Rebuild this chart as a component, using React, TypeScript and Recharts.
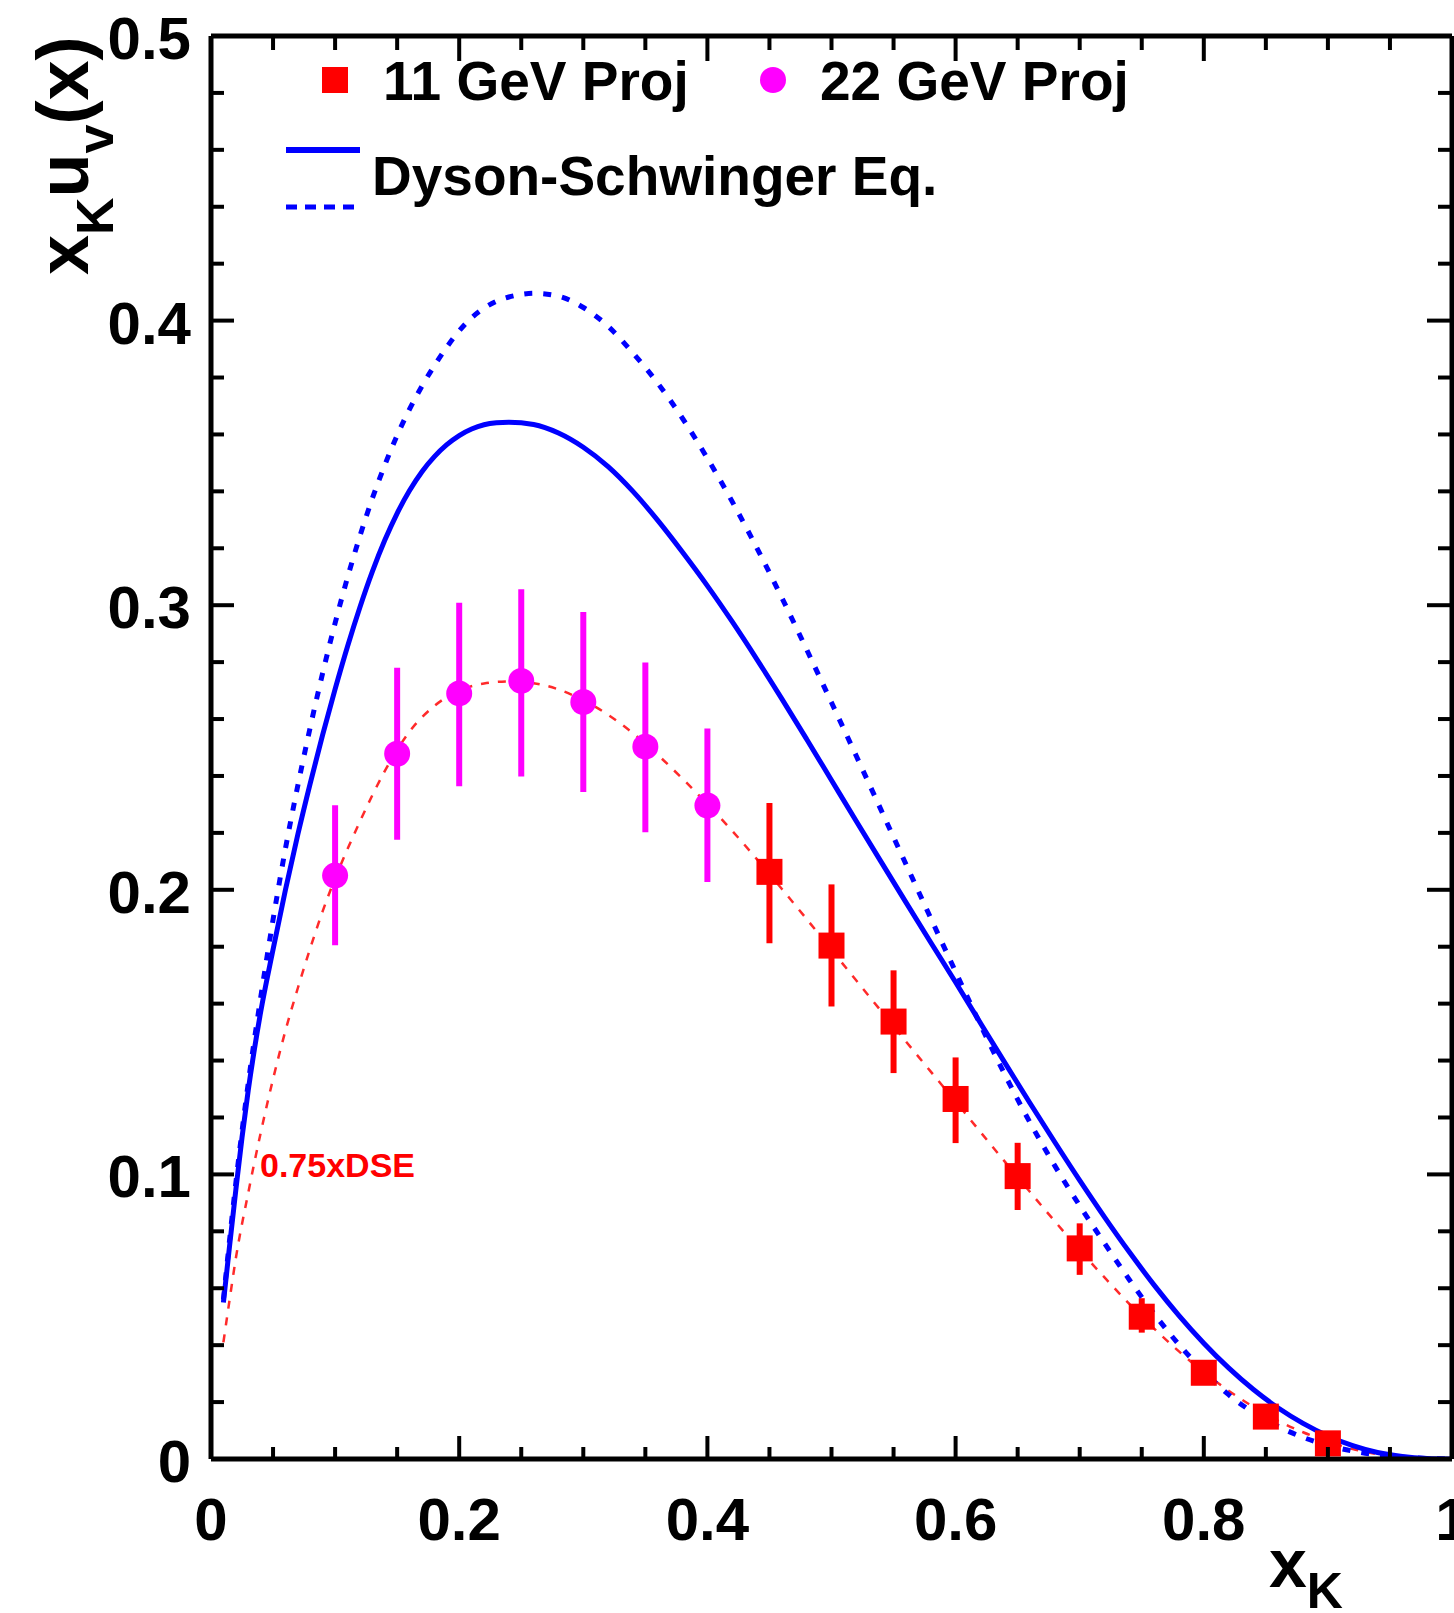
import React from 'react';
import { ComposedChart, Line, Scatter, XAxis, YAxis, ErrorBar, Customized } from 'recharts';

const W = 1454;
const H = 1613;
const FONT = '"Liberation Sans", Arial, Helvetica, sans-serif';

// ---- axis ticks ----
const xTicks = [0, 0.05, 0.1, 0.15, 0.2, 0.25, 0.3, 0.35, 0.4, 0.45, 0.5, 0.55, 0.6, 0.65, 0.7, 0.75, 0.8, 0.85, 0.9, 0.95, 1];
const xMajorTicks = [0, 0.2, 0.4, 0.6, 0.8, 1];
const xTickLabels = ['0', '0.2', '0.4', '0.6', '0.8', '1'];
const yTicks = [0, 0.02, 0.04, 0.06, 0.08, 0.1, 0.12, 0.14, 0.16, 0.18, 0.2, 0.22, 0.24, 0.26, 0.28, 0.3, 0.32, 0.34, 0.36, 0.38, 0.4, 0.42, 0.44, 0.46, 0.48, 0.5];
const yMajorTicks = [0, 0.1, 0.2, 0.3, 0.4, 0.5];
const yTickLabels = ['0', '0.1', '0.2', '0.3', '0.4', '0.5'];

// ---- Dyson-Schwinger solid curve ----
const dseSolidX = [0.01, 0.015, 0.02, 0.025, 0.03, 0.035, 0.04, 0.05, 0.06, 0.07, 0.08, 0.09, 0.1, 0.11, 0.12, 0.13, 0.14, 0.15, 0.16, 0.17, 0.18, 0.19, 0.2, 0.21, 0.22, 0.23, 0.24, 0.26, 0.28, 0.3, 0.32, 0.34, 0.36, 0.38, 0.4, 0.42, 0.44, 0.46, 0.48, 0.5, 0.52, 0.54, 0.56, 0.58, 0.6, 0.62, 0.64, 0.66, 0.68, 0.7, 0.72, 0.74, 0.76, 0.78, 0.8, 0.82, 0.84, 0.86, 0.88, 0.9, 0.92, 0.94, 0.96, 0.98, 1.0];
const dseSolidY = [0.055, 0.075, 0.0945, 0.113, 0.1295, 0.144, 0.157, 0.179, 0.2, 0.2195, 0.2375, 0.2545, 0.2705, 0.2855, 0.2993, 0.3118, 0.3228, 0.3323, 0.3403, 0.3469, 0.3522, 0.3564, 0.3596, 0.3619, 0.3634, 0.3641, 0.3643, 0.3635, 0.3605, 0.3555, 0.3487, 0.34, 0.3298, 0.3186, 0.3068, 0.2942, 0.2809, 0.2671, 0.2529, 0.2385, 0.2241, 0.2098, 0.1956, 0.1815, 0.1675, 0.1532, 0.139, 0.125, 0.1113, 0.0979, 0.085, 0.0727, 0.0611, 0.0504, 0.0407, 0.032, 0.0244, 0.0179, 0.0125, 0.0081, 0.0047, 0.0023, 0.0009, 0.0002, 0];

// ---- Dyson-Schwinger dashed curve ----
const dseDashX = [0.01, 0.02, 0.03, 0.04, 0.05, 0.06, 0.07, 0.08, 0.09, 0.1, 0.11, 0.12, 0.13, 0.14, 0.15, 0.16, 0.17, 0.18, 0.19, 0.2, 0.21, 0.22, 0.23, 0.24, 0.25, 0.26, 0.28, 0.3, 0.32, 0.34, 0.36, 0.38, 0.4, 0.42, 0.44, 0.46, 0.48, 0.5, 0.52, 0.54, 0.56, 0.58, 0.6, 0.62, 0.64, 0.66, 0.68, 0.7, 0.72, 0.74, 0.76, 0.78, 0.8, 0.82, 0.84, 0.86, 0.88, 0.9, 0.92, 0.94, 0.96, 0.98, 1.0];
const dseDashY = [0.056, 0.097, 0.132, 0.162, 0.1895, 0.2145, 0.2367, 0.2572, 0.2762, 0.2937, 0.3097, 0.3243, 0.3375, 0.3492, 0.3597, 0.3689, 0.377, 0.3842, 0.3907, 0.3964, 0.401, 0.4044, 0.4068, 0.4083, 0.4092, 0.4096, 0.4086, 0.4046, 0.398, 0.3886, 0.378, 0.3656, 0.3516, 0.3364, 0.32, 0.3026, 0.2844, 0.2658, 0.247, 0.228, 0.209, 0.19, 0.1712, 0.1526, 0.1348, 0.1182, 0.103, 0.089, 0.0758, 0.063, 0.051, 0.0402, 0.0308, 0.0226, 0.0163, 0.0114, 0.0076, 0.0048, 0.0028, 0.0014, 0.0006, 0.0002, 0];

// ---- 0.75 x DSE curve (red dashed) ----
const scaledX = [0.01, 0.015, 0.02, 0.03, 0.04, 0.05, 0.06, 0.07, 0.08, 0.09, 0.1, 0.11, 0.12, 0.13, 0.14, 0.15, 0.16, 0.18, 0.2, 0.22, 0.24, 0.26, 0.28, 0.3, 0.32, 0.34, 0.36, 0.38, 0.4, 0.42, 0.44, 0.46, 0.48, 0.5, 0.52, 0.54, 0.56, 0.58, 0.6, 0.62, 0.64, 0.66, 0.68, 0.7, 0.72, 0.74, 0.76, 0.78, 0.8, 0.82, 0.84, 0.86, 0.88, 0.9, 0.92, 0.94, 0.96, 0.98, 1.0];
const scaledY = [0.041, 0.056, 0.0705, 0.0935, 0.1145, 0.1335, 0.1505, 0.1655, 0.1795, 0.1925, 0.204, 0.2143, 0.224, 0.2332, 0.2417, 0.2492, 0.2556, 0.2646, 0.27, 0.2725, 0.2732, 0.2726, 0.2704, 0.2666, 0.2615, 0.255, 0.2474, 0.239, 0.2301, 0.2207, 0.2107, 0.2003, 0.1897, 0.1789, 0.1681, 0.1574, 0.1467, 0.1361, 0.1256, 0.1149, 0.1043, 0.0938, 0.0835, 0.0734, 0.0638, 0.0545, 0.0458, 0.0378, 0.0305, 0.024, 0.0183, 0.0134, 0.0094, 0.0061, 0.0035, 0.0017, 0.0007, 0.0002, 0];

// ---- 22 GeV projection (magenta circles) ----
const p22X = [0.1, 0.15, 0.2, 0.25, 0.3, 0.35, 0.4];
const p22Y = [0.205, 0.2478, 0.269, 0.2734, 0.266, 0.2503, 0.2296];
const p22Lo = [0.1805, 0.2176, 0.2364, 0.2398, 0.2344, 0.2202, 0.2027];
const p22Hi = [0.2297, 0.278, 0.3009, 0.3056, 0.2976, 0.2799, 0.2567];

// ---- 11 GeV projection (red squares) ----
const p11X = [0.45, 0.5, 0.55, 0.6, 0.65, 0.7, 0.75, 0.8, 0.85, 0.9];
const p11Y = [0.2063, 0.1804, 0.1537, 0.1265, 0.0994, 0.074, 0.05, 0.0303, 0.0149, 0.0055];
const p11Lo = [0.1812, 0.159, 0.1356, 0.111, 0.0875, 0.0647, 0.0444, 0.027, 0.0125, 0.0038];
const p11Hi = [0.2305, 0.2019, 0.1717, 0.1411, 0.1111, 0.0828, 0.0565, 0.034, 0.0175, 0.0072];

const zipCurve = (xs: number[], ys: number[]) => xs.map((x, i) => ({ x, y: ys[i] }));
const zipPoints = (xs: number[], ys: number[], lo: number[], hi: number[]) =>
  xs.map((x, i) => ({ x, y: ys[i], err: [ys[i] - lo[i], hi[i] - ys[i]] }));

const solidData = zipCurve(dseSolidX, dseSolidY);
const dashData = zipCurve(dseDashX, dseDashY);
const scaledData = zipCurve(scaledX, scaledY);
const p22Data = zipPoints(p22X, p22Y, p22Lo, p22Hi);
const p11Data = zipPoints(p11X, p11Y, p11Lo, p11Hi);

const BLUE = '#0000ff';
const MAGENTA = '#ff00ff';
const RED = '#ff0000';

const findLabel = (v: number, majors: number[], labels: string[]) => {
  const i = majors.findIndex((m) => Math.abs(m - v) < 1e-9);
  return i >= 0 ? labels[i] : null;
};

const BottomTick = (props: any) => {
  const { x, y, payload } = props;
  const label = findLabel(payload.value, xMajorTicks, xTickLabels);
  return (
    <g>
      <line x1={x} x2={x} y1={y} y2={y - (label !== null ? 23 : 12)} stroke="#000" strokeWidth={4} />
      {label !== null && (
        <text x={x} y={y + 81} textAnchor="middle" fontFamily={FONT} fontWeight="bold" fontSize={60} fill="#000">
          {label}
        </text>
      )}
    </g>
  );
};

const TopTick = (props: any) => {
  const { x, y, payload } = props;
  const major = findLabel(payload.value, xMajorTicks, xTickLabels) !== null;
  return <line x1={x} x2={x} y1={y} y2={y + (major ? 25 : 14)} stroke="#000" strokeWidth={4} />;
};

const LeftTick = (props: any) => {
  const { x, y, payload } = props;
  const label = findLabel(payload.value, yMajorTicks, yTickLabels);
  return (
    <g>
      <line x1={x} x2={x + (label !== null ? 23 : 13)} y1={y} y2={y} stroke="#000" strokeWidth={4} />
      {label !== null && (
        <text x={x - 20} y={y + 23} textAnchor="end" fontFamily={FONT} fontWeight="bold" fontSize={60} fill="#000">
          {label}
        </text>
      )}
    </g>
  );
};

const RightTick = (props: any) => {
  const { x, y, payload } = props;
  const major = findLabel(payload.value, yMajorTicks, yTickLabels) !== null;
  return <line x1={x} x2={x - (major ? 25 : 14)} y1={y} y2={y} stroke="#000" strokeWidth={4} />;
};

const SquareShape = (props: any) => {
  const { cx, cy } = props;
  if (cx == null || cy == null) return <g />;
  return <rect x={cx - 13} y={cy - 13} width={26} height={26} fill={RED} />;
};

const CircleShape = (props: any) => {
  const { cx, cy } = props;
  if (cx == null || cy == null) return <g />;
  return <circle cx={cx} cy={cy} r={13} fill={MAGENTA} />;
};

const Overlay = () => (
  <g fontFamily={FONT} fontWeight="bold">
    {/* Y axis title */}
    <text transform="translate(88,275) rotate(-90)" fontSize={72} fill="#000">
      <tspan>x</tspan>
      <tspan fontSize={52} dy={25}>K</tspan>
      <tspan fontSize={72} dy={-25}>u</tspan>
      <tspan fontSize={52} dy={25}>v</tspan>
      <tspan fontSize={72} dy={-25}>(x)</tspan>
    </text>
    {/* X axis title */}
    <text x={1269} y={1587} fontSize={68} fill="#000">
      <tspan>x</tspan>
      <tspan fontSize={50} dy={21}>K</tspan>
    </text>
    {/* Legend */}
    <rect x={322} y={67} width={26} height={26} fill={RED} />
    <text x={383} y={100} fontSize={55} fill="#000">11 GeV Proj</text>
    <circle cx={773} cy={80} r={13} fill={MAGENTA} />
    <text x={820} y={100} fontSize={55} fill="#000">22 GeV Proj</text>
    <line x1={286} x2={360} y1={150} y2={150} stroke={BLUE} strokeWidth={6} />
    <line x1={286} x2={354} y1={207} y2={207} stroke={BLUE} strokeWidth={5} strokeDasharray="11 8" />
    <text x={372} y={195} fontSize={55} fill="#000">Dyson-Schwinger Eq.</text>
    {/* curve annotation */}
    <text x={260} y={1177} fontSize={34} fill={RED}>0.75xDSE</text>
  </g>
);

export default function App() {
  return (
    <div style={{ position: 'absolute', left: 0, top: 0, width: W, height: H, background: '#fff' }}>
      <ComposedChart width={W} height={H} margin={{ top: 35, right: 1, bottom: 0, left: 0 }}>
        <XAxis
          xAxisId={0}
          dataKey="x"
          type="number"
          domain={[0, 1]}
          allowDataOverflow
          ticks={xTicks}
          interval={0}
          height={154}
          tickSize={0}
          tickMargin={0}
          tickLine={false}
          axisLine={{ stroke: '#000', strokeWidth: 5 }}
          tick={<BottomTick />}
        />
        <XAxis
          xAxisId="top"
          orientation="top"
          dataKey="x"
          type="number"
          domain={[0, 1]}
          allowDataOverflow
          ticks={xTicks}
          interval={0}
          height={1}
          tickSize={0}
          tickMargin={0}
          tickLine={false}
          axisLine={{ stroke: '#000', strokeWidth: 5 }}
          tick={<TopTick />}
        />
        <YAxis
          yAxisId={0}
          dataKey="y"
          type="number"
          domain={[0, 0.5]}
          allowDataOverflow
          ticks={yTicks}
          interval={0}
          width={211}
          tickSize={0}
          tickMargin={0}
          tickLine={false}
          axisLine={{ stroke: '#000', strokeWidth: 5 }}
          tick={<LeftTick />}
        />
        <YAxis
          yAxisId="right"
          orientation="right"
          dataKey="y"
          type="number"
          domain={[0, 0.5]}
          allowDataOverflow
          ticks={yTicks}
          interval={0}
          width={1}
          tickSize={0}
          tickMargin={0}
          tickLine={false}
          axisLine={{ stroke: '#000', strokeWidth: 5 }}
          tick={<RightTick />}
        />
        <Scatter data={p22Data} fill={MAGENTA} shape={CircleShape} isAnimationActive={false}>
          <ErrorBar dataKey="err" direction="y" width={0} stroke={MAGENTA} strokeWidth={6} isAnimationActive={false} />
        </Scatter>
        <Scatter data={p11Data} fill={RED} shape={SquareShape} isAnimationActive={false}>
          <ErrorBar dataKey="err" direction="y" width={0} stroke={RED} strokeWidth={6} isAnimationActive={false} />
        </Scatter>
        <Line
          data={scaledData}
          dataKey="y"
          type="monotone"
          stroke="#ff2a2a"
          strokeWidth={2.5}
          strokeDasharray="8 9"
          dot={false}
          activeDot={false}
          isAnimationActive={false}
        />
        <Line
          data={dashData}
          dataKey="y"
          type="monotone"
          stroke={BLUE}
          strokeWidth={5}
          strokeDasharray="8 11"
          dot={false}
          activeDot={false}
          isAnimationActive={false}
        />
        <Line
          data={solidData}
          dataKey="y"
          type="monotone"
          stroke={BLUE}
          strokeWidth={5}
          dot={false}
          activeDot={false}
          isAnimationActive={false}
        />
        <Customized component={<Overlay />} />
      </ComposedChart>
    </div>
  );
}
